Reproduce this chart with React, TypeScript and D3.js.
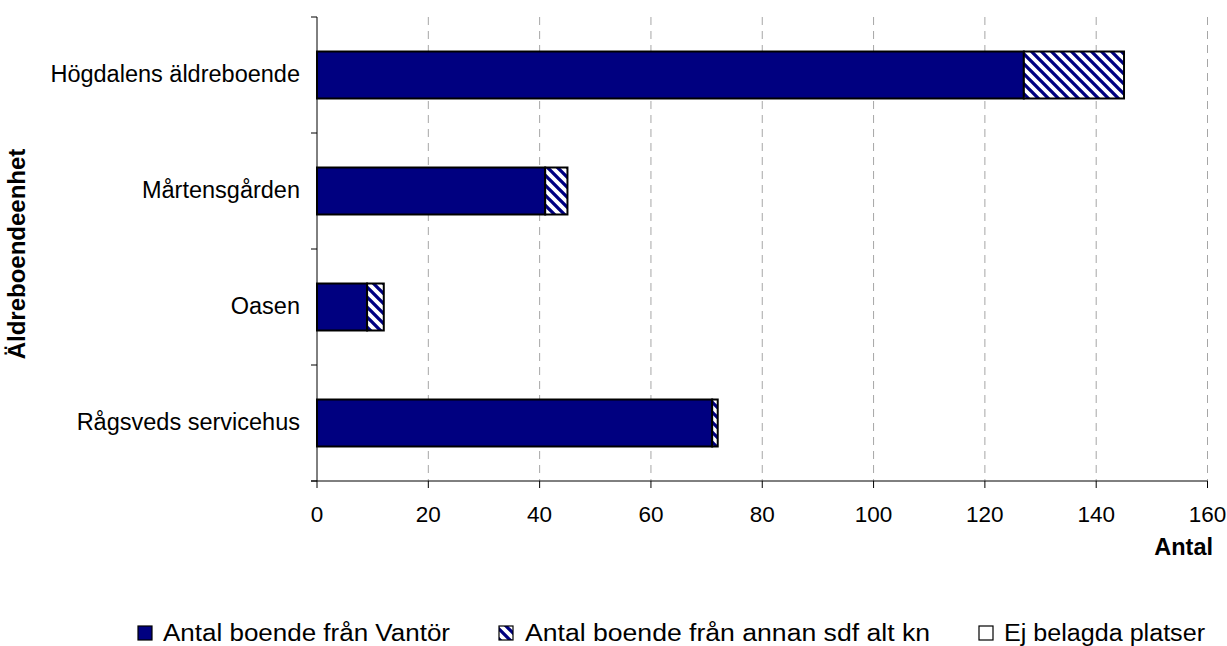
import React from "react";
import * as d3 from "d3";

const categories = ["Högdalens äldreboende", "Mårtensgården", "Oasen", "Rågsveds servicehus"];
const seriesNames = ["Antal boende från Vantör", "Antal boende från annan sdf alt kn", "Ej belagda platser"];
const vantor = [127, 41, 9, 71];
const annan = [18, 4, 3, 1];
const ejBelagda = [0, 0, 0, 0];
const xTicks = [0, 20, 40, 60, 80, 100, 120, 140, 160];
const xTitle = "Antal";
const yTitle = "Äldreboendeenhet";

const W = 1227;
const H = 646;
const PLOT = { left: 317, right: 1207.5, top: 17, bottom: 481 };
const NAVY = "#000080";
const FONT = "'Liberation Sans', Arial, sans-serif";
const legendSquareX = [138, 499, 979];
const legendTextX = [163, 525, 1004];
const legendTextW = [287, 405, 201];

export default function App() {
  const x = d3.scaleLinear().domain([0, 160]).range([PLOT.left, PLOT.right]);
  const y = d3
    .scaleBand<string>()
    .domain(categories)
    .range([PLOT.top, PLOT.bottom])
    .paddingInner(0.595)
    .paddingOuter(0.2975);
  const step = y.step();
  const boundaries = d3.range(categories.length + 1).map((i) => PLOT.top + i * step);

  const stacked = categories.map((c, i) => {
    const segs = [vantor[i], annan[i], ejBelagda[i]];
    let acc = 0;
    return segs.map((v, k) => {
      const s = { cat: c, k, x0: acc, x1: acc + v };
      acc += v;
      return s;
    });
  });

  const fills = [NAVY, "url(#hatch)", "#ffffff"];

  return (
    <svg
      width={W}
      height={H}
      style={{ position: "fixed", left: 0, top: 0, background: "#fff" }}
      fontFamily={FONT}
    >
      <defs>
        <pattern id="hatch" patternUnits="userSpaceOnUse" width="10" height="10">
          <rect width="10" height="10" fill="#fff" />
          <path d="M-2.5,-2.5 L12.5,12.5 M-2.5,7.5 L2.5,12.5 M7.5,-2.5 L12.5,2.5" stroke={NAVY} strokeWidth={3.3} />
        </pattern>
      </defs>

      {/* gridlines */}
      {xTicks.slice(1).map((t) => (
        <line
          key={"g" + t}
          x1={x(t)}
          x2={x(t)}
          y1={PLOT.top}
          y2={PLOT.bottom}
          stroke="#a6a6a6"
          strokeWidth={1}
          strokeDasharray="8,6"
        />
      ))}

      {/* bars */}
      {stacked.map((segs) =>
        segs
          .filter((s) => s.x1 > s.x0)
          .map((s) => (
            <rect
              key={s.cat + s.k}
              x={x(s.x0)}
              y={y(s.cat)!}
              width={x(s.x1) - x(s.x0)}
              height={y.bandwidth()}
              fill={fills[s.k]}
              stroke="#000"
              strokeWidth={2}
            />
          ))
      )}

      {/* y axis */}
      <line x1={PLOT.left} x2={PLOT.left} y1={PLOT.top} y2={PLOT.bottom} stroke="#000" strokeWidth={1} />
      {boundaries.map((b, i) => (
        <line key={"yt" + i} x1={PLOT.left - 6} x2={PLOT.left} y1={b} y2={b} stroke="#000" strokeWidth={1} />
      ))}
      {categories.map((c) => (
        <text
          key={"yl" + c}
          x={PLOT.left - 17}
          y={y(c)! + y.bandwidth() / 2}
          dy="0.3em"
          textAnchor="end"
          fontSize={23.5}
          fill="#000"
        >
          {c}
        </text>
      ))}

      {/* x axis */}
      <line x1={PLOT.left - 6} x2={PLOT.right} y1={PLOT.bottom} y2={PLOT.bottom} stroke="#000" strokeWidth={1} />
      {xTicks.map((t) => (
        <g key={"xt" + t}>
          <line x1={x(t)} x2={x(t)} y1={PLOT.bottom} y2={PLOT.bottom + 7} stroke="#000" strokeWidth={1} />
          <text x={x(t)} y={522} textAnchor="middle" fontSize={22.5} fill="#000">
            {t}
          </text>
        </g>
      ))}

      {/* axis titles */}
      <text x={1213} y={555} textAnchor="end" fontSize={23.5} fontWeight="bold" fill="#000">
        {xTitle}
      </text>
      <text
        transform={`translate(25,${(PLOT.top + PLOT.bottom) / 2 + 5}) rotate(-90)`}
        textAnchor="middle"
        fontSize={24}
        fontWeight="bold"
        fill="#000"
      >
        {yTitle}
      </text>

      {/* legend */}
      {seriesNames.map((n, i) => (
        <g key={"lg" + i}>
          <rect
            x={legendSquareX[i]}
            y={626}
            width={14}
            height={14}
            fill={fills[i]}
            stroke="#000"
            strokeWidth={1.2}
          />
          <text
            x={legendTextX[i]}
            y={641}
            fontSize={23}
            fill="#000"
            textLength={legendTextW[i]}
            lengthAdjust="spacingAndGlyphs"
          >
            {n}
          </text>
        </g>
      ))}
    </svg>
  );
}
